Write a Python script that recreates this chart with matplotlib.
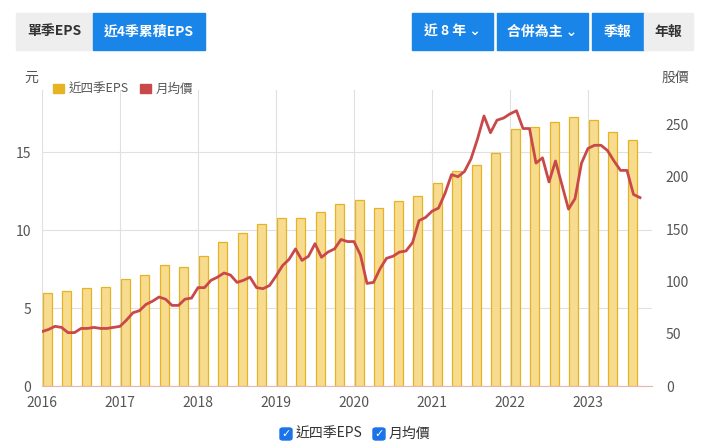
import matplotlib
matplotlib.use("Agg")
import matplotlib.pyplot as plt
from matplotlib.patches import FancyBboxPatch, Rectangle
import numpy as np

plt.rcParams['font.family'] = ['Noto Sans CJK TC', 'DejaVu Sans']

years = [2016, 2017, 2018, 2019, 2020, 2021, 2022, 2023]
eps = [5.94, 6.1, 6.28, 6.35, 6.84, 7.1, 7.76, 7.65, 8.33, 9.27, 9.85, 10.38,
       10.8, 10.8, 11.17, 11.67, 11.94, 11.43, 11.9, 12.22, 13.0, 13.8, 14.19, 14.98,
       16.5, 16.64, 16.92, 17.29, 17.09, 16.28, 15.81]
price = [52, 54, 57, 56, 51, 51, 55, 55, 56, 55, 55, 56,
         57, 63, 70, 72, 78, 81, 85, 83, 77, 77, 83, 84,
         94, 94, 101, 104, 108, 106, 99, 101, 104, 94, 93, 96,
         105, 115, 121, 131, 120, 124, 136, 123, 128, 131, 140, 138,
         138, 125, 98, 99, 112, 122, 124, 128, 129, 137, 158, 161,
         167, 170, 184, 202, 200, 205, 217, 236, 258, 242, 254, 256,
         260, 263, 246, 246, 213, 218, 195, 215, 192, 169, 179, 213,
         227, 230, 230, 225, 215, 206, 206, 183, 180]

W, H = 705, 443
fig = plt.figure(figsize=(W/100, H/100), dpi=100)
ax = fig.add_axes([42/W, 1-386/H, 610/W, 296/H])
ax2 = ax.twinx()

bx = [2016 + i*0.25 + 0.065 for i in range(len(eps))]
ax.bar(bx, eps, width=0.115, color='#f7dc8f', edgecolor='#e6b422', linewidth=0.9, zorder=2)
px = [2016 + i/12 for i in range(len(price))]
ax2.plot(px, price, color='#c9494a', lw=2, zorder=3)

ax.set_xlim(2016, 2016 + 610/78)
ax.set_ylim(0, 19)
ax2.set_ylim(0, 19*15.6/1.048)
ax.set_yticks([0, 5, 10, 15])
ax2.set_yticks([0, 50, 100, 150, 200, 250])
ax.set_xticks(years)
ax.set_xticklabels([str(y) for y in years])
ax.grid(True, color='#e0e0e0', lw=0.8, zorder=0)
ax.set_axisbelow(True)
for a in (ax, ax2):
    for s in a.spines.values():
        s.set_visible(False)
    a.tick_params(length=0, labelsize=10, colors='#555555')
ax.spines['bottom'].set_visible(True)
ax.spines['bottom'].set_color('#e8b4b4')
ax.tick_params(axis='y', pad=8)
ax.tick_params(axis='x', pad=7)
ax2.tick_params(axis='y', pad=10)

fig.text(24/W, 1-78/H, '元', fontsize=10, color='#555', va='center')
fig.text(662/W, 1-78/H, '股價', fontsize=10, color='#555', va='center')

# legend top
fig.patches.append(Rectangle((53/W, 1-93/H), 11/W, 9/H, transform=fig.transFigure, color='#e6b422'))
fig.text(69/W, 1-89/H, '近四季EPS', fontsize=9, color='#555', va='center')
fig.patches.append(Rectangle((140/W, 1-93/H), 11/W, 9/H, transform=fig.transFigure, color='#c9494a'))
fig.text(156/W, 1-89/H, '月均價', fontsize=9, color='#555', va='center')

# bottom legend with checkboxes
for xc, lab in [(280, '近四季EPS'), (373, '月均價')]:
    fig.patches.append(FancyBboxPatch((xc/W, 1-440/H), 12/W, 12/H, boxstyle='round,pad=0,rounding_size=0.004',
                                      transform=fig.transFigure, color='#1a73e8'))
    fig.text((xc+6)/W, 1-434/H, '✓', fontsize=8, color='white', ha='center', va='center', family=['DejaVu Sans'])
    fig.text((xc+16)/W, 1-434/H, lab, fontsize=10, color='#333', va='center')

# buttons
def btn(x0, x1, label, blue):
    fig.patches.append(Rectangle((x0/W, 1-50/H), (x1-x0)/W, 37/H, transform=fig.transFigure,
                                 color='#1a85e8' if blue else '#eeeeee'))
    fig.text((x0+x1)/2/W, 1-31.5/H, label, fontsize=10, ha='center', va='center',
             color='white' if blue else '#333', fontweight='bold')

btn(16, 93, '單季EPS', False)
btn(93, 205, '近4季累積EPS', True)
btn(412, 493, '近 8 年 ⌄', True)
btn(497, 588, '合併為主 ⌄', True)
btn(592, 644, '季報', True)
btn(644, 693, '年報', False)

fig.savefig('out.png', dpi=100)
